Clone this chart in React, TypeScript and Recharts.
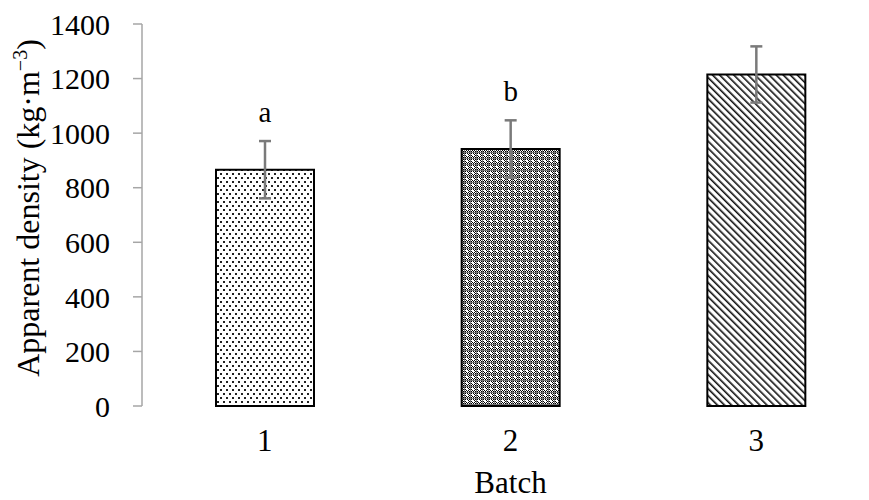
import { BarChart, Bar, XAxis, YAxis, ErrorBar, Cell, LabelList } from 'recharts';

const BATCHES = ['1', '2', '3'];
const DENSITY = [866, 942, 1215];
const DENSITY_SD = [105, 105, 103];
const SIG_LETTERS = ['a', 'b', ''];
const Y_TICKS = [0, 200, 400, 600, 800, 1000, 1200, 1400];
const EDGE_TICKS = [0, 1, 2, 3];
const FILLS = ['url(#dots)', 'url(#checks)', 'url(#hatch)'];

const data = BATCHES.map((b, i) => ({
  batch: b,
  density: DENSITY[i],
  sd: DENSITY_SD[i],
  sig: SIG_LETTERS[i],
}));

const FONT = "'Liberation Serif', 'Times New Roman', serif";
const AXIS = '#a6a6a6';

const SigLabel = (props: any) => {
  const { x, y, width, height, value, index } = props;
  if (!value) return null;
  // sit the letter just above the error bar cap
  const perUnit = height / DENSITY[index];
  const capY = y - DENSITY_SD[index] * perUnit;
  return (
    <text x={x + width / 2} y={capY - 19} textAnchor="middle" fontSize={29} fontFamily={FONT} fill="#000">
      {value}
    </text>
  );
};

const YLabel = ({ viewBox }: any) => {
  const x = 39;
  const y = viewBox.y + viewBox.height / 2 - 7;
  return (
    <text x={x} y={y} transform={`rotate(-90, ${x}, ${y})`} textAnchor="middle" fontSize={32} fontFamily={FONT} fill="#000">
      Apparent density (kg·m<tspan dy={-12} fontSize={20}>−3</tspan><tspan dy={12}>)</tspan>
    </text>
  );
};

const XLabel = ({ viewBox }: any) => (
  <text x={viewBox.x + viewBox.width / 2} y={viewBox.y + 87} textAnchor="middle" fontSize={31} fontFamily={FONT} fill="#000">
    Batch
  </text>
);

export default function App() {
  return (
    <div style={{ position: 'fixed', left: 0, top: 0, width: 869, height: 500, overflow: 'hidden', background: '#fff' }}>
      <BarChart width={880} height={500} data={data} margin={{ top: 24, right: 1, left: 0, bottom: 0 }}>
        <defs>
          <pattern id="dots" width="6" height="8" patternUnits="userSpaceOnUse">
            <rect width="6" height="8" fill="#fff" />
            <rect x="1" y="1" width="2" height="2" fill="#222" />
            <rect x="4" y="5" width="2" height="2" fill="#222" />
          </pattern>
          <pattern id="checker" width="2" height="2" patternUnits="userSpaceOnUse">
            <rect width="2" height="2" fill="#fff" />
            <rect x="0" y="0" width="1" height="1" fill="#000" />
            <rect x="1" y="1" width="1" height="1" fill="#000" />
          </pattern>
          <pattern id="checks" width="6" height="6" patternUnits="userSpaceOnUse">
            <rect width="6" height="6" fill="url(#checker)" />
            <rect x="0" y="2" width="6" height="1" fill="#777" />
            <rect x="2" y="0" width="1" height="6" fill="#777" />
            <rect x="4" y="4" width="2" height="2" fill="#fff" />
          </pattern>
          <pattern id="hatch" width="5" height="5" patternUnits="userSpaceOnUse" patternTransform="rotate(-45)">
            <rect width="5" height="5" fill="#fff" />
            <rect x="0" y="0" width="1.6" height="5" fill="#111" />
          </pattern>
        </defs>
        <XAxis
          xAxisId="edge"
          type="number"
          domain={[0, 3]}
          ticks={EDGE_TICKS}
          height={0}
          tickSize={9}
          tickFormatter={() => ''}
          axisLine={{ stroke: AXIS, strokeWidth: 1.5 }}
          tickLine={{ stroke: AXIS, strokeWidth: 1.5 }}
        />
        <XAxis
          xAxisId="cat"
          dataKey="batch"
          height={94}
          axisLine={false}
          tickLine={false}
          tickSize={0}
          tickMargin={23}
          tick={{ fill: '#000', fontSize: 31, fontFamily: FONT }}
          label={<XLabel />}
        />
        <YAxis
          domain={[0, 1400]}
          ticks={Y_TICKS}
          width={142}
          tickSize={9}
          tickMargin={23}
          axisLine={{ stroke: AXIS, strokeWidth: 1.5 }}
          tickLine={{ stroke: AXIS, strokeWidth: 1.5 }}
          tick={{ fill: '#000', fontSize: 30, fontFamily: FONT }}
          label={<YLabel />}
        />
        <Bar xAxisId="cat" dataKey="density" barSize={98} stroke="#000" strokeWidth={2} isAnimationActive={false}>
          {data.map((d, i) => (
            <Cell key={d.batch} fill={FILLS[i]} />
          ))}
          <ErrorBar dataKey="sd" direction="y" width={6} stroke="#7a7a7a" strokeWidth={2.5} />
          <LabelList dataKey="sig" content={<SigLabel />} />
        </Bar>
      </BarChart>
    </div>
  );
}
